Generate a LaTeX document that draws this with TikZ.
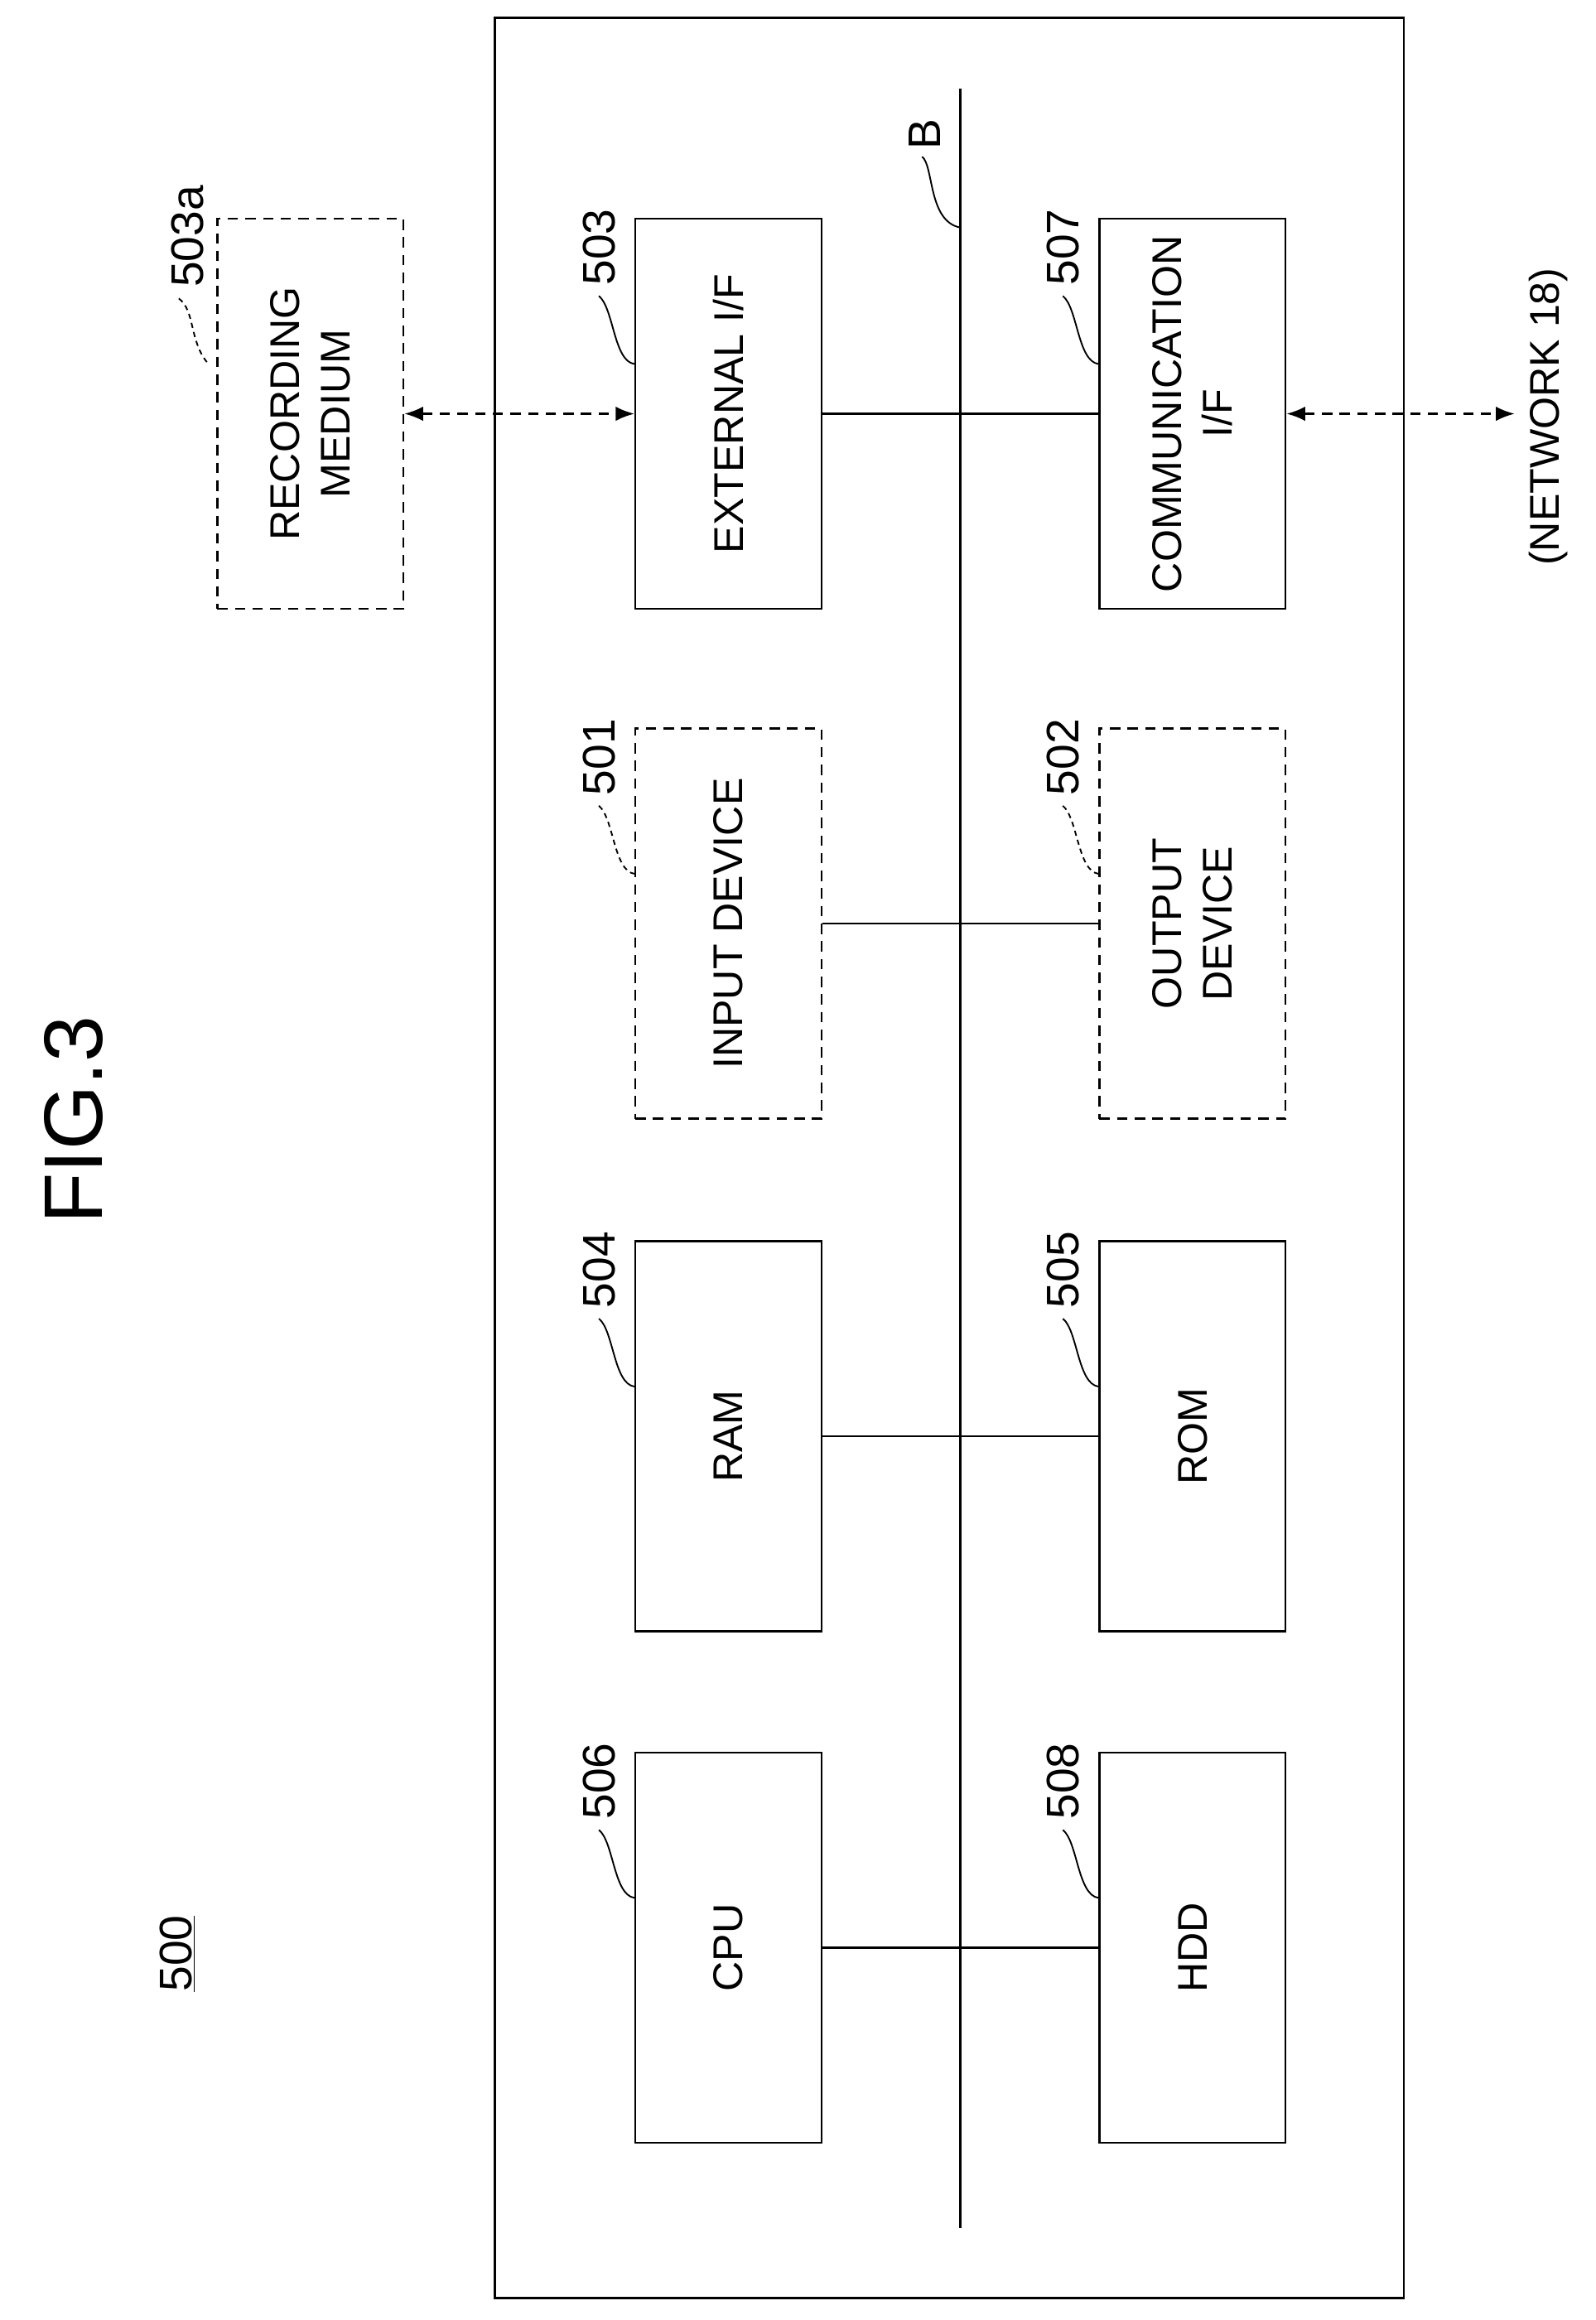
\documentclass[tikz,border=0pt]{standalone}
\usepackage{fontspec}
\setmainfont{Liberation Sans}
\usetikzlibrary{arrows.meta}
\begin{document}
\begin{tikzpicture}[x=0.05cm,y=-0.05cm,line width=2pt,
  box/.style={draw,minimum width=6.3cm,minimum height=13.2cm,inner sep=0pt},
  dbox/.style={box,dash pattern=on 10pt off 7pt},
  txt/.style={rotate=90,font=\fontsize{40}{48}\selectfont,align=center},
  num/.style={rotate=90,font=\fontsize{44}{48}\selectfont,inner sep=0pt},
  lead/.style={line width=1.5pt},
  dlead/.style={lead,dash pattern=on 5pt off 4pt},
  link/.style={dash pattern=on 10pt off 7pt,{Latex[length=18pt,width=14pt]}-{Latex[length=18pt,width=14pt]}}]
  \useasboundingbox (0,0) rectangle (1080,1570);
  % frame and bus
  \draw (335,12) rectangle (950,1555);
  \coordinate (btop) at (650,60);
  \coordinate (bbot) at (650,1508);
  \draw (btop) -- (bbot);
  \node[num] (lb) at (626,91) {B};
  \draw[lead] (624,106) .. controls (632,112) and (628,150) .. (650,154);
  % boxes
  \node[box] (ext) at (493,280) {};
  \node[txt] at (ext) {EXTERNAL I/F};
  \node[dbox] (inp) at (493,625) {};
  \node[txt] at (inp) {INPUT DEVICE};
  \node[box] (ram) at (493,972) {};
  \node[txt] at (ram) {RAM};
  \node[box] (cpu) at (493,1318) {};
  \node[txt] at (cpu) {CPU};
  \node[box] (com) at (807,280) {};
  \node[txt] at (com) {COMMUNICATION\\I/F};
  \node[dbox] (out) at (807,625) {};
  \node[txt] at (out) {OUTPUT\\DEVICE};
  \node[box] (rom) at (807,972) {};
  \node[txt] at (rom) {ROM};
  \node[box] (hdd) at (807,1318) {};
  \node[txt] at (hdd) {HDD};
  \node[dbox] (rec) at (210,280) {};
  \node[txt] at (rec) {RECORDING\\MEDIUM};
  % links
  \foreach \a/\b in {ext/com,inp/out,ram/rom,cpu/hdd}
    \draw (\a.east) -- (\b.west);
  \coordinate (net) at (1025,280);
  \draw[link] (rec.east) -- (ext.west);
  \draw[link] (com.east) -- (net);
  \node[txt] (lnet) at (1048,282) {(NETWORK 18)};
  % reference numbers
  \foreach \b/\t/\s in {ext/503/lead,inp/501/dlead,ram/504/lead,cpu/506/lead,
                        com/507/lead,out/502/dlead,rom/505/lead,hdd/508/lead}{
    \node[num] (l\t) at ([shift={(-24,20)}]\b.north west) {\t};
    \draw[\s] ([shift={(-24,53)}]\b.north west) .. controls +(10,8) and +(-14,-2)
      .. ([shift={(0,99)}]\b.north west);
  }
  \node[num] (l503a) at (127,160) {503a};
  \draw[dlead] (121,202) .. controls (132,210) and (128,230) .. (140,245);
  \node[num] (l500) at (120,1322) {\underline{500}};
  \node[rotate=90,font=\fontsize{80}{90}\selectfont] (fig) at (50,758) {FIG.3};
\end{tikzpicture}
\end{document}
